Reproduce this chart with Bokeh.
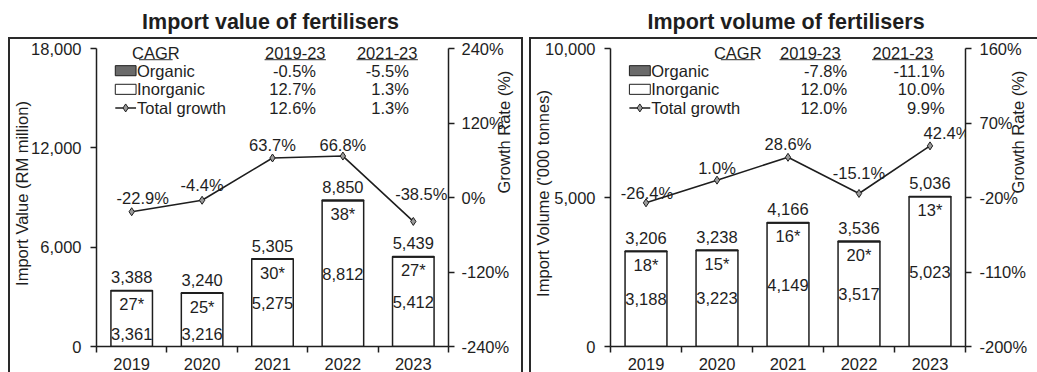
import math

from bokeh.plotting import figure
from bokeh.models import (Range1d, LinearAxis, FixedTicker, Label, Spacer,
                          NumeralTickFormatter)
from bokeh.layouts import row, column
from bokeh.embed import file_html
from bokeh.resources import INLINE
from bokeh.core.properties import value

# ---- data -------------------------------------------------------------
years = ["2019", "2020", "2021", "2022", "2023"]

value_total = [3388, 3240, 5305, 8850, 5439]
value_inorganic = [3361, 3216, 5275, 8812, 5412]
value_organic = [27, 25, 30, 38, 27]
value_growth = [-22.9, -4.4, 63.7, 66.8, -38.5]
value_cagr_2019_23 = ["-0.5%", "12.7%", "12.6%"]
value_cagr_2021_23 = ["-5.5%", "1.3%", "1.3%"]

volume_total = [3206, 3238, 4166, 3536, 5036]
volume_inorganic = [3188, 3223, 4149, 3517, 5023]
volume_organic = [18, 15, 16, 20, 13]
volume_growth = [-26.4, 1.0, 28.6, -15.1, 42.4]
volume_cagr_2019_23 = ["-7.8%", "12.0%", "12.0%"]
volume_cagr_2021_23 = ["-11.1%", "10.0%", "9.9%"]

value_axis_ticks = [0, 6000, 12000, 18000]
value_rate_ticks = [-240, -120, 0, 120, 240]
volume_axis_ticks = [0, 5000, 10000]
volume_rate_ticks = [-200, -110, -20, 70, 160]

legend_rows = ["Organic", "Inorganic", "Total growth"]

# ---- styling ------------------------------------------------------------
FONT = "Liberation Sans"
FS = "16.5px"
INK = "#1e1e1e"
ORGANIC_FILL = "#6a6a6a"
FRAME_H = 296      # pixel height between the lowest and highest tick
HEADROOM = 8       # blank frame space above the top tick
BOX = "2px solid #2a2a2a"


def title_block(text, width):
    t = figure(width=width, height=37, x_range=Range1d(0, 1), y_range=Range1d(0, 1),
               output_backend="svg", toolbar_location=None,
               x_axis_location=None, y_axis_location=None,
               min_border_left=0, min_border_right=0, min_border_top=0, min_border_bottom=0)
    t.outline_line_color = None
    t.grid.visible = False
    t.add_layout(Label(x=0.5, y=0.43, text=text, text_font=FONT, text_font_size="21.5px",
                       text_font_style="bold", text_color=INK,
                       text_align="center", text_baseline="middle"))
    return t


def style_axis(ax, label_standoff):
    ax.major_tick_out = 6
    ax.major_tick_in = 0
    ax.minor_tick_out = 0
    ax.minor_tick_in = 0
    ax.major_tick_line_color = INK
    ax.major_tick_line_width = 1.5
    ax.axis_line_color = INK
    ax.axis_line_width = 1.5
    ax.major_label_text_font = FONT
    ax.major_label_text_font_size = FS
    ax.major_label_text_color = INK
    ax.major_label_standoff = label_standoff
    ax.axis_label_text_font = FONT
    ax.axis_label_text_font_size = FS
    ax.axis_label_text_font_style = "normal"
    ax.axis_label_text_color = INK


def make_panel(ylabel, total, inorg, org, growth, cagr_a, cagr_b,
               y_ticks, rate_ticks, width, border_left, border_right, frame_w,
               left_standoffs, right_standoffs,
               growth_dx, growth_dy, cagr_x, val_a_x, val_b_x, box_styles):
    y_top = y_ticks[-1]
    stretch = (FRAME_H + HEADROOM) / FRAME_H
    r_lo, r_hi = rate_ticks[0], rate_ticks[-1]
    # the box border is drawn inside the element (border-box sizing)
    p = figure(width=width, height=335, x_range=Range1d(0.5, 5.5),
               y_range=Range1d(0, y_top * stretch), output_backend="svg",
               toolbar_location=None, min_border_left=border_left,
               min_border_right=border_right, min_border_top=1,
               min_border_bottom=28, styles=box_styles)
    p.outline_line_color = None
    p.grid.visible = False

    xs = [i + 1 for i in range(len(years))]

    # x axis: labels at category centres, ticks on the category boundaries
    xa = p.xaxis[0]
    style_axis(xa, 5)
    xa.ticker = FixedTicker(ticks=xs, minor_ticks=[i + 0.5 for i in range(len(years) + 1)])
    xa.major_label_overrides = {x: y for x, y in zip(xs, years)}
    xa.major_tick_out = 0
    xa.minor_tick_out = 6
    xa.minor_tick_line_color = INK
    xa.minor_tick_line_width = 1.5

    ya = p.yaxis[0]
    style_axis(ya, left_standoffs[0])
    ya.bounds = (0, y_top)
    ya.ticker = FixedTicker(ticks=y_ticks)
    ya.formatter = NumeralTickFormatter(format="0,0")
    ya.axis_label = ylabel
    ya.axis_label_standoff = left_standoffs[1]

    # growth-rate axis on the right
    p.extra_y_ranges = {"rate": Range1d(r_lo, r_lo + (r_hi - r_lo) * stretch)}
    ra = LinearAxis(y_range_name="rate", ticker=FixedTicker(ticks=rate_ticks))
    style_axis(ra, right_standoffs[0])
    ra.bounds = (r_lo, r_hi)
    ra.major_label_overrides = {t: f"{t}%" for t in rate_ticks}
    ra.axis_label = "Growth Rate (%)"
    ra.axis_label_standoff = right_standoffs[1]
    if "axis_label_orientation" in ra.properties():
        ra.axis_label_orientation = math.pi / 2
    p.add_layout(ra, "right")

    # stacked bars: inorganic at the bottom, organic on top
    org_top = [a + b for a, b in zip(inorg, org)]
    p.vbar(x=xs, bottom=0, top=inorg, width=0.59, fill_color="white",
           line_color=INK, line_width=1.5)
    p.vbar(x=xs, bottom=inorg, top=org_top, width=0.59, fill_color=ORGANIC_FILL,
           line_color=INK, line_width=1.5)

    txt = dict(text_font=value(FONT), text_font_size=FS, text_color=INK,
               text_align="center", text_baseline="middle")
    p.text(x=xs, y=total, text=[f"{v:,}" for v in total], y_offset=-13, **txt)
    p.text(x=xs, y=total, text=[f"{v}*" for v in org], y_offset=14, **txt)

    # inorganic value sits mid-bar unless that would crowd the organic label
    ppu = FRAME_H / y_top
    inorg_y = []
    for t, v in zip(total, inorg):
        org_label_h = t * ppu - 14
        mid_h = v / 2 * ppu
        inorg_y.append((12 if org_label_h - mid_h < 24 else mid_h) / ppu)
    p.text(x=xs, y=inorg_y, text=[f"{v:,}" for v in inorg], **txt)

    # total growth line
    p.line(x=xs, y=growth, y_range_name="rate", line_color=INK, line_width=1.6)
    p.scatter(x=xs, y=growth, y_range_name="rate", marker="diamond", size=8,
              fill_color="#9a9a9a", line_color=INK, line_width=1)
    for x, g, dx, dy in zip(xs, growth, growth_dx, growth_dy):
        p.text(x=[x], y=[g], text=[f"{g:.1f}%"], y_range_name="rate",
               x_offset=dx, y_offset=dy, **txt)

    # CAGR table, placed in pixels from the top-left corner of the tick area
    def fx(px):
        return 0.5 + px / frame_w * 5

    def fy(py):
        return y_top * (1 - py / FRAME_H)

    lab = dict(text_font=FONT, text_font_size=FS, text_color=INK,
               text_baseline="middle")
    header_y, row_y = 4, [22, 40.5, 59]
    for cx, t in [(cagr_x, "CAGR"), (201, "2019-23"), (294, "2021-23")]:
        p.add_layout(Label(x=fx(cx), y=fy(header_y), text=t, text_align="center", **lab))
    p.segment(x0=[fx(cagr_x - 17), fx(170), fx(263)], y0=[fy(11)] * 3,
              x1=[fx(cagr_x + 17), fx(232), fx(325)], y1=[fy(11)] * 3,
              line_color="#555555", line_width=1.2)
    for ry, name, a, b in zip(row_y, legend_rows, cagr_a, cagr_b):
        p.add_layout(Label(x=fx(41), y=fy(ry), text=name, text_align="left", **lab))
        p.add_layout(Label(x=fx(val_a_x), y=fy(ry), text=a, text_align="right", **lab))
        p.add_layout(Label(x=fx(val_b_x), y=fy(ry), text=b, text_align="right", **lab))
    p.quad(left=[fx(19)], right=[fx(40)], top=[fy(row_y[0] - 5)], bottom=[fy(row_y[0] + 5)],
           fill_color=ORGANIC_FILL, line_color=INK, line_width=1)
    p.quad(left=[fx(19)], right=[fx(40)], top=[fy(row_y[1] - 5)], bottom=[fy(row_y[1] + 5)],
           fill_color="white", line_color=INK, line_width=1)
    p.line(x=[fx(19), fx(40)], y=[fy(row_y[2])] * 2, line_color=INK, line_width=1.6)
    p.scatter(x=[fx(29.5)], y=[fy(row_y[2])], marker="diamond", size=8,
              fill_color="#9a9a9a", line_color=INK, line_width=1)
    return p


# left box: page x 8..523, plot area 93..449
left = make_panel("Import Value (RM million)",
                  value_total, value_inorganic, value_organic, value_growth,
                  value_cagr_2019_23, value_cagr_2021_23,
                  value_axis_ticks, value_rate_ticks,
                  width=515, border_left=83, border_right=72, frame_w=356,
                  left_standoffs=(9, -3), right_standoffs=(7, -8),
                  growth_dx=[11, 0, 0, 0, 8], growth_dy=[-14, -15, -13, -11, -27],
                  cagr_x=60, val_a_x=222, val_b_x=316,
                  box_styles={"border-left": BOX, "border-right": BOX, "border-top": BOX})

# right box: page x 529..1037, plot area 610..967
right = make_panel("Import Volume ('000 tonnes)",
                   volume_total, volume_inorganic, volume_organic, volume_growth,
                   volume_cagr_2019_23, volume_cagr_2021_23,
                   volume_axis_ticks, volume_rate_ticks,
                   width=508, border_left=79, border_right=70, frame_w=357,
                   left_standoffs=(9, -10), right_standoffs=(8, -12),
                   growth_dx=[1, 0, 0, 0, 17], growth_dy=[-10, -12, -13, -20, -13],
                   cagr_x=128, val_a_x=238, val_b_x=336,
                   box_styles={"border-left": BOX, "border-top": BOX})

layout = row(
    Spacer(width=8),
    column(title_block("Import value of fertilisers", 515), left, spacing=0),
    Spacer(width=6),
    column(title_block("Import volume of fertilisers", 508), right, spacing=0),
    spacing=0,
)
open("out.html", "w").write(file_html(layout, INLINE))
